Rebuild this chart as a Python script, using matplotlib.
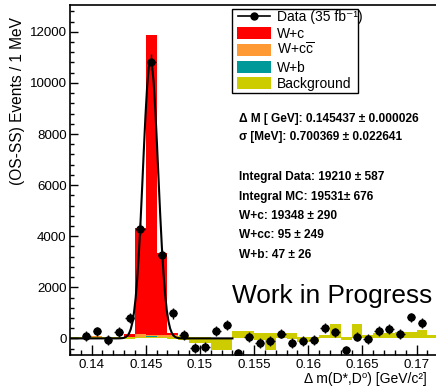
import numpy as np
import matplotlib
matplotlib.use("Agg")
import matplotlib.pyplot as plt
from matplotlib.patches import Rectangle
from matplotlib.lines import Line2D
from matplotlib.ticker import MultipleLocator

plt.rcParams["font.family"] = ["Liberation Sans", "DejaVu Sans"]
plt.rcParams["mathtext.fontset"] = "custom"
plt.rcParams["mathtext.rm"] = "Liberation Sans"
plt.rcParams["mathtext.it"] = "Liberation Sans:italic"
plt.rcParams["mathtext.bf"] = "Liberation Sans:bold"

# 1 MeV bins in delta m(D*, D0)
bin_lo, bin_w, n_bins = 0.138, 0.001, 34

# OS-SS data (NaN = no entry drawn)
data = [np.nan, 100, 270, -66, 245, 790, 4290, 10820, 3250, 975,
        135, -385, -330, 280, 530, -590, 50, -190, -110, 190,
        -190, -110, -50, 420, 235, -470, 70, -35, 290, 370,
        180, 820, 590, np.nan]
data_err = [190, 190, 190, 190, 190, 200, 230, 300, 220, 200,
            190, 190, 190, 190, 190, 190, 190, 190, 190, 190,
            190, 190, 190, 190, 190, 190, 190, 190, 190, 190,
            190, 190, 190, 190]

# MC components, stacked in this order (two background pieces share one colour)
bkg_a = [60, 60, 70, 50, 60, 60, 40, 40, 40, 60,
         90, 60, 60, 0, 0, 300, 280, 230, 200, 210,
         230, 40, 40, 150, 550, 50, 550, 150, 200, 230,
         260, 260, 330, 150]
bkg_b = [-90, -90, -90, -90, -90, -90, -40, -40, -40, -90,
         -150, -230, -230, -470, -470, -300, -280, -296, -660, -210,
         -260, -190, -190, -150, -550, -100, -550, -150, -200, -230,
         -260, -260, -330, -150]
w_b = [0, 0, 0, 0, 0, 0, 20, 80, 10, 0,
       0, 0, 0, 0, 0, 0, 0, 0, 0, 0,
       0, 0, 0, 0, 0, 0, 0, 0, 0, 0,
       0, 0, 0, 0]
w_cc = [0, 0, 120, 0, 0, 0, 150, 60, 140, 150,
        120, 0, 0, 0, 0, 0, 0, 0, 0, 0,
        0, 0, 0, 0, 0, 0, 0, 0, 0, 0,
        0, 0, 0, 0]
w_c = [0, 0, 0, 0, 0, 200, 4160, 11730, 3180, 100,
       50, 0, 0, 0, 0, 65, 50, 0, 0, 0,
       0, 0, 0, 0, 0, 0, 0, 0, 0, 0,
       0, 0, 0, 0]

stack_colors = ["#cccc00", "#cccc00", "#009999", "#ff9933", "#ff0000"]

# gaussian fit result
fit_mean, fit_sigma, fit_amp = 0.145437, 0.000700369, 10900
fit_range = (0.138, 0.153)

legend_labels = ["Data (35 fb\u207b\u00b9)", "W+c",
                 "W+c$\\mathrm{\\overline{c}}$", "W+b", "Background"]
legend_colors = [None, "#ff0000", "#ff9933", "#009999", "#cccc00"]

stats_lines = [
    "\u0394 M [ GeV]: 0.145437 \u00b1 0.000026",
    "\u03c3 [MeV]: 0.700369 \u00b1 0.022641",
    "Integral Data: 19210 \u00b1 587",
    "Integral MC: 19531\u00b1 676",
    "W+c: 19348 \u00b1 290",
    "W+cc: 95 \u00b1 249",
    "W+b: 47 \u00b1 26",
]
stats_y = [119.3, 136.7, 177.3, 196.7, 216.0, 235.0, 255.0]

W, H = 436, 388
fig = plt.figure(figsize=(W / 100, H / 100), dpi=100, facecolor="white")
ax = fig.add_axes([70 / W, 33 / H, 367 / W, 350 / H])


def fx(px):
    return px / W


def fy(py):
    return 1 - py / H


edges = bin_lo + bin_w * np.arange(n_bins + 1)
centers = 0.5 * (edges[:-1] + edges[1:])

# THStack style: every layer filled from zero, top of the stack drawn first
cum = np.cumsum(np.array([bkg_a, bkg_b, w_b, w_cc, w_c], dtype=float), axis=0)
for k in reversed(range(len(cum))):
    ax.stairs(cum[k], edges, baseline=0, fill=True, color=stack_colors[k],
              linewidth=0, zorder=1 + (len(cum) - k) * 0.1)

xf = np.linspace(fit_range[0], fit_range[1], 100)
yf = fit_amp * np.exp(-0.5 * ((xf - fit_mean) / fit_sigma) ** 2)
ax.plot(xf, yf, color="black", lw=1.5, zorder=3)

ax.errorbar(centers, data, yerr=data_err, xerr=0.0004, fmt="o", color="black",
            ms=5, elinewidth=1.0, capsize=0, zorder=4)

ax.set_xlim(bin_lo, bin_lo + 367 / 10.83 * bin_w)
ax.set_ylim(-650, 13050)

ax.xaxis.set_major_locator(MultipleLocator(0.005))
ax.xaxis.set_minor_locator(MultipleLocator(0.001))
ax.yaxis.set_major_locator(MultipleLocator(2000))
ax.yaxis.set_minor_locator(MultipleLocator(400))
ax.xaxis.set_major_formatter(plt.FuncFormatter(lambda v, p: f"{v:g}"))
ax.tick_params(axis="both", which="both", direction="in", top=False, right=False,
               width=1.0, labelsize=9.6, colors="black")
ax.tick_params(axis="x", which="major", length=7.5, pad=2.6)
ax.tick_params(axis="x", which="minor", length=3.6)
ax.tick_params(axis="y", which="major", length=6, pad=2.5)
ax.tick_params(axis="y", which="minor", length=3)
for side in ("left", "bottom", "top"):
    ax.spines[side].set_linewidth(1.2)
ax.spines["right"].set_visible(False)

fig.text(fx(17.5), fy(17), "(OS-SS) Events / 1 MeV", rotation=90,
         ha="center", va="top", fontsize=11.2)
fig.text(fx(427), fy(383.5), "\u0394 m(D*,D\u2070) [GeV/c\u00b2]",
         ha="right", va="baseline", fontsize=10)

# legend box drawn by hand (ROOT TLegend look)
fig.add_artist(Rectangle((fx(231.7), fy(92.7)), fx(357.7) - fx(231.7),
                         fy(9.3) - fy(92.7), transform=fig.transFigure,
                         facecolor="white", edgecolor="black", lw=1.0, zorder=5))
row_y = [16.0, 33.3, 50.0, 66.7, 83.3]
for lab, col, y in zip(legend_labels, legend_colors, row_y):
    if col is None:
        fig.add_artist(Line2D([fx(238), fx(270)], [fy(y), fy(y)],
                              transform=fig.transFigure, color="black", lw=1.2,
                              zorder=6))
        fig.add_artist(Line2D([fx(254)], [fy(y)], transform=fig.transFigure,
                              marker="o", ms=5, color="black", zorder=6))
    else:
        fig.add_artist(Rectangle((fx(237.3), fy(y + 5.8)), fx(271) - fx(237.3),
                                 fy(y - 5.8) - fy(y + 5.8),
                                 transform=fig.transFigure, facecolor=col,
                                 edgecolor="none", zorder=6))
    fig.text(fx(276.7), fy(y + 5), lab, ha="left", va="baseline", fontsize=10,
             zorder=7)

for txt, y in zip(stats_lines, stats_y):
    fig.text(fx(239.3), fy(y), txt, ha="left", va="center",
             fontsize=8.6, fontweight="bold")

fig.text(fx(231.7), fy(303.3), "Work in Progress", ha="left",
         va="baseline", fontsize=18.9)

fig.savefig("out.png", dpi=100, facecolor="white")
